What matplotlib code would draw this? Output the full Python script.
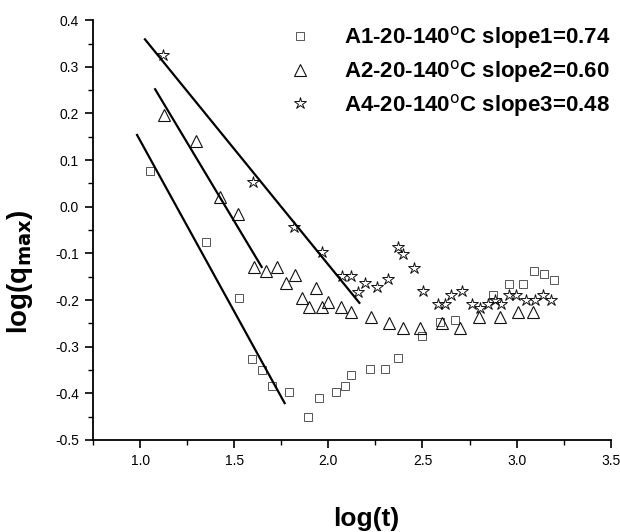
import matplotlib
matplotlib.use("Agg")
import matplotlib.pyplot as plt
from matplotlib.ticker import MultipleLocator, FormatStrFormatter

plt.rcParams['font.family'] = ['Liberation Sans', 'DejaVu Sans']

# A1 (squares)
a1_x = [1.053, 1.35, 1.524, 1.593, 1.646, 1.699, 1.789, 1.89, 1.948, 2.043, 2.086, 2.123,
        2.224, 2.30, 2.37, 2.497, 2.594, 2.674, 2.875, 2.96, 3.033, 3.092, 3.145, 3.198]
a1_y = [0.076, -0.076, -0.196, -0.326, -0.35, -0.384, -0.397, -0.451, -0.41, -0.397, -0.384, -0.361,
        -0.348, -0.348, -0.324, -0.277, -0.247, -0.243, -0.189, -0.166, -0.166, -0.138, -0.144, -0.157]
# A2 (triangles)
a2_x = [1.127, 1.297, 1.424, 1.52, 1.604, 1.667, 1.725, 1.773, 1.821, 1.858, 1.90, 1.932,
        1.964, 1.996, 2.07, 2.118, 2.229, 2.324, 2.397, 2.488, 2.605, 2.70, 2.80, 2.912, 3.007, 3.087]
a2_y = [0.196, 0.141, 0.021, -0.016, -0.129, -0.138, -0.129, -0.164, -0.146, -0.196, -0.215, -0.174,
        -0.215, -0.204, -0.215, -0.226, -0.236, -0.249, -0.26, -0.26, -0.249, -0.26, -0.236, -0.236, -0.226, -0.226]
# A4 (stars)
a4_x = [1.122, 1.60, 1.82, 1.964, 2.075, 2.118, 2.16, 2.197, 2.26, 2.317, 2.37, 2.397, 2.456,
        2.504, 2.584, 2.62, 2.652, 2.71, 2.764, 2.806, 2.848, 2.886, 2.918, 2.96, 2.997, 3.05,
        3.097, 3.14, 3.183]
a4_y = [0.325, 0.053, -0.044, -0.097, -0.149, -0.149, -0.183, -0.164, -0.172, -0.155, -0.086, -0.101, -0.131,
        -0.181, -0.209, -0.209, -0.189, -0.181, -0.209, -0.217, -0.209, -0.2, -0.209, -0.189, -0.189, -0.2,
        -0.2, -0.189, -0.2]

# fitted lines (endpoints)
fit1_x = [0.984, 1.768]
fit1_y = [0.154, -0.421]
fit2_x = [1.08, 1.646]
fit2_y = [0.252, -0.129]
fit3_x = [1.026, 2.165]
fit3_y = [0.359, -0.206]

labels = ["A1-20-140$^{\\mathrm{o}}$C slope1=0.74",
          "A2-20-140$^{\\mathrm{o}}$C slope2=0.60",
          "A4-20-140$^{\\mathrm{o}}$C slope3=0.48"]

fig = plt.figure(figsize=(6.2, 5.32), dpi=100)
ax = fig.add_axes([0.150, 0.173, 0.835, 0.789])

ax.plot(a1_x, a1_y, ls='none', marker='s', ms=6, mfc='none', mec='#555555', mew=0.7, label=labels[0])
ax.plot(a2_x, a2_y, ls='none', marker='^', ms=8, mfc='none', mec='#111111', mew=0.8, label=labels[1])
ax.plot(a4_x, a4_y, ls='none', marker='*', ms=9, mfc='none', mec='#111111', mew=0.7, label=labels[2])

for fx, fy in [(fit1_x, fit1_y), (fit2_x, fit2_y), (fit3_x, fit3_y)]:
    ax.plot(fx, fy, color='black', lw=1.6)

ax.set_xlim(0.75, 3.5)
ax.set_ylim(-0.5, 0.4)
ax.xaxis.set_major_locator(MultipleLocator(0.5))
ax.xaxis.set_minor_locator(MultipleLocator(0.25))
ax.yaxis.set_major_locator(MultipleLocator(0.1))
ax.yaxis.set_minor_locator(MultipleLocator(0.05))
ax.xaxis.set_major_formatter(FormatStrFormatter('%.1f'))
ax.yaxis.set_major_formatter(FormatStrFormatter('%.1f'))
ax.spines['top'].set_visible(False)
ax.spines['right'].set_visible(False)
for s in ['left', 'bottom']:
    ax.spines[s].set_linewidth(1.3)
ax.tick_params(which='major', direction='out', length=6, width=1.2, labelsize=10, pad=4)
ax.tick_params(which='minor', direction='out', length=3.5, width=1.0)

ax.set_xlabel('log(t)', fontsize=19, fontweight='bold')
ax.xaxis.set_label_coords(0.527, -0.16)
ax.set_ylabel('log(q$_{\\mathbf{max}}$)', fontsize=20, fontweight='bold')
ax.yaxis.set_label_coords(-0.112, 0.40)

leg = ax.legend(loc='upper left', bbox_to_anchor=(0.379, 0.99), frameon=False,
                prop={'weight': 'bold', 'size': 16}, handletextpad=1.45,
                labelspacing=0.3, handlelength=1.0, borderpad=0, borderaxespad=0)

fig.savefig('out.png', dpi=100)
